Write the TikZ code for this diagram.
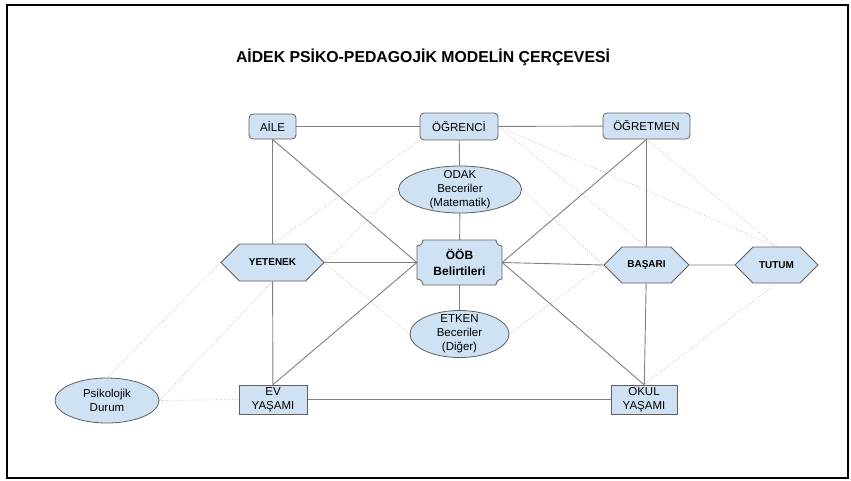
\documentclass[tikz,border=0pt]{standalone}
\usepackage{fontspec}
\setmainfont{Liberation Sans}
\usetikzlibrary{shapes.geometric,shapes.symbols,backgrounds}
\definecolor{fillb}{HTML}{CFE2F3}
\definecolor{bord}{HTML}{5F5F5F}
\definecolor{sline}{HTML}{808080}
\definecolor{dline}{HTML}{B5B5B5}
\tikzset{
  rbox/.style={draw=bord, fill=fillb, rounded corners=4pt, line width=0.8pt,
    font=\fontsize{11.5}{14}\selectfont, align=center, inner sep=0pt},
  sbox/.style={draw=bord, fill=fillb, line width=0.8pt,
    font=\fontsize{11.5}{14}\selectfont, align=center, inner sep=0pt},
  hexa/.style={draw=bord, fill=fillb, signal, signal to=east and west,
    signal pointer angle=90, line width=0.8pt, inner sep=0pt,
    font=\bfseries\fontsize{10}{12}\selectfont},
  ell/.style={draw=bord, fill=fillb, ellipse, inner sep=0pt, line width=0.8pt},
  lbl/.style={font=\fontsize{11.5}{14}\selectfont, align=center, inner sep=0pt},
  solidline/.style={draw=sline, line width=0.9pt},
  dotline/.style={draw=dline, dotted, line width=0.7pt},
}
\begin{document}
\begin{tikzpicture}[x=1pt,y=-1pt]
\useasboundingbox (0,0) rectangle (851,480);
\draw[black, line width=2.2pt] (7,5) rectangle (848,478);

\node[font=\bfseries\fontsize{15.8}{18}\selectfont, inner sep=0pt] (title) at (423,57)
  {AİDEK PSİKO-PEDAGOJİK MODELİN ÇERÇEVESİ};

% nodes
\node[rbox, minimum width=47pt, minimum height=25pt] (aile) at (272.5,126.5) {AİLE};
\node[rbox, minimum width=78pt, minimum height=27pt] (ogrenci) at (459,126.5) {ÖĞRENCİ};
\node[rbox, minimum width=87pt, minimum height=26pt] (ogretmen) at (646.5,126) {ÖĞRETMEN};

\node[ell, minimum width=123pt, minimum height=47pt] (odak) at (460,189.5) {};
\node[lbl] (odakt) at (odak) {ODAK\\Beceriler\\(Matematik)};

\node[hexa, minimum width=103pt, minimum height=37pt] (yetenek) at (272.5,262.5) {YETENEK};
\node[hexa, minimum width=85pt, minimum height=36pt] (basari) at (646.5,265) {BAŞARI};
\node[hexa, minimum width=83pt, minimum height=36pt] (tutum) at (776.5,265) {TUTUM};

% plaque shape for OOB
\begin{scope}[shift={(459.5,262.5)}]
\draw[draw=bord, fill=fillb, line width=0.8pt]
  (-36.5,-22.5) -- (36.5,-22.5) .. controls (36.5,-19.2) and (39.2,-16.5) .. (42.5,-16.5)
  -- (42.5,16.5) .. controls (39.2,16.5) and (36.5,19.2) .. (36.5,22.5)
  -- (-36.5,22.5) .. controls (-36.5,19.2) and (-39.2,16.5) .. (-42.5,16.5)
  -- (-42.5,-16.5) .. controls (-39.2,-16.5) and (-36.5,-19.2) .. cycle;
\end{scope}
\node[inner sep=0pt, minimum width=85pt, minimum height=45pt, align=center,
  font=\bfseries\fontsize{12}{16}\selectfont] (oob) at (459.5,262.5) {ÖÖB\\Belirtileri};

\node[ell, minimum width=99pt, minimum height=47pt] (etken) at (459.5,334) {};
\node[lbl] (etkent) at (etken) {ETKEN\\Beceriler\\(Diğer)};

\node[ell, minimum width=104pt, minimum height=45pt] (psik) at (107,400.5) {};
\node[lbl] (psikt) at (psik) {Psikolojik\\Durum};

\node[sbox, minimum width=68pt, minimum height=29pt] (ev) at (273,399.5) {EV\\YAŞAMI};
\node[sbox, minimum width=66pt, minimum height=29pt] (okul) at (644,399.5) {OKUL\\YAŞAMI};

\begin{scope}[on background layer]
\fill[white] (0,0) rectangle (851,480);
% dotted links
\draw[dotline] (ogrenci.south west) -- (yetenek.north);
\draw[dotline] (odak.west) -- (yetenek.east);
\draw[dotline] (yetenek.west) -- (psik.north);
\draw[dotline] (yetenek.south) -- (psik.east);
\draw[dotline] (psik.east) -- (ev.west);
\draw[dotline] (yetenek.east) -- (etken.west);
\draw[dotline] (etken.east) -- (basari.west);
\draw[dotline] (odak.east) -- (basari.west);
\draw[dotline] (ogrenci.east) -- (basari.north);
\draw[dotline] (ogrenci.east) -- (tutum.north);
\draw[dotline] (ogretmen.south) -- (tutum.north);
\draw[dotline] (tutum.south) -- (okul.north);
% solid links
\draw[solidline] (aile) -- (ogrenci);
\draw[solidline] (ogrenci) -- (ogretmen);
\draw[solidline] (ogrenci) -- (odak);
\draw[solidline] (odak) -- (oob);
\draw[solidline] (oob) -- (etken);
\draw[solidline] (aile) -- (yetenek);
\draw[solidline] (yetenek) -- (ev);
\draw[solidline] (aile.south) -- (oob.west);
\draw[solidline] (yetenek.east) -- (oob.west);
\draw[solidline] (ev.north) -- (oob.west);
\draw[solidline] (ogretmen.south) -- (oob.east);
\draw[solidline] (oob.east) -- (basari.west);
\draw[solidline] (oob.east) -- (okul.north);
\draw[solidline] (ogretmen) -- (basari);
\draw[solidline] (basari) -- (okul);
\draw[solidline] (basari) -- (tutum);
\draw[solidline] (ev) -- (okul);
\end{scope}
\end{tikzpicture}
\end{document}
